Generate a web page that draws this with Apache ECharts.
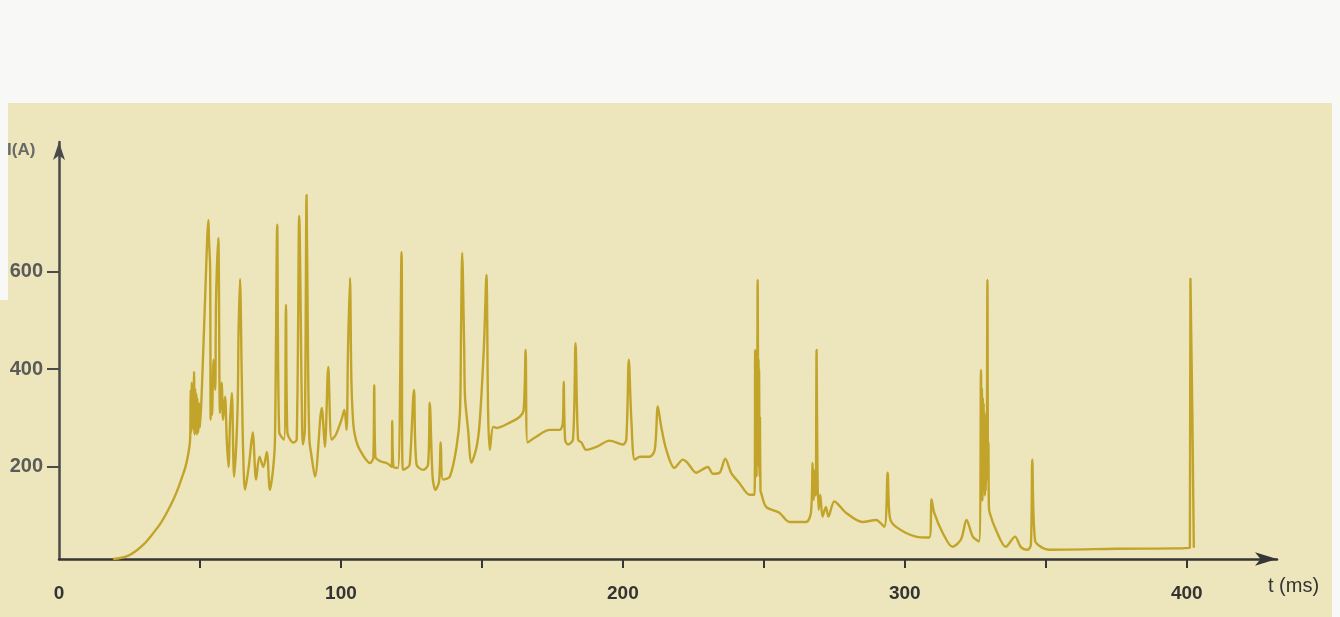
<!DOCTYPE html>
<html>
<head>
<meta charset="utf-8">
<script src="https://cdn.jsdelivr.net/npm/echarts@6/dist/echarts.min.js"></script>
<style>
html,body{margin:0;padding:0;background:#F8F8F6;}
#chart{width:1340px;height:617px;}
</style>
</head>
<body>
<div id="chart"></div>
<script>
// time in ms
const timeMs = [
  19.2,21.7,24.6,27.4,30.2,33.0,35.9,38.4,40.5,42.3,
  43.7,44.8,45.8,46.5,46.7,46.9,47.1,47.3,47.5,47.7,
  47.9,48.1,48.3,48.5,48.7,48.9,49.1,49.4,49.7,50.0,
  50.7,51.8,53.0,53.2,53.6,53.8,54.1,54.3,54.8,55.4,
  55.7,56.5,57.1,57.7,58.2,58.9,59.5,60.1,60.7,61.3,
  62.1,63.3,63.7,64.2,64.8,65.3,66.0,67.4,68.7,69.9,
  71.1,72.5,73.7,74.8,75.9,76.6,77.4,78.1,79.8,80.5,
  81.0,83.1,84.3,85.2,86.1,86.5,87.2,87.8,88.3,88.8,
  89.6,90.8,93.2,94.3,95.5,96.7,98.2,100.2,101.2,102.0,
  102.5,103.2,103.7,104.4,105.3,106.7,110.3,111.5,111.8,112.2,
  114.2,116.2,118.0,118.2,118.6,120.2,121.5,121.9,123.4,124.4,
  125.9,126.8,129.2,130.9,131.5,132.5,133.5,134.8,135.4,136.2,
  138.6,141.0,142.2,142.6,143.0,143.7,144.0,145.1,146.3,148.1,
  149.2,150.7,151.6,152.2,152.8,154.0,155.2,159.9,163.4,164.8,
  165.5,166.2,168.7,174.1,177.6,178.7,179.0,179.5,180.5,182.3,
  183.2,184.1,185.3,187.0,190.6,195.3,200.0,201.2,202.1,203.0,
  204.2,206.0,209.5,211.3,212.4,213.6,215.4,218.3,221.3,223.0,
  226.0,230.1,231.9,234.3,236.3,238.4,241.3,244.9,246.7,246.9,
  247.0,247.1,247.2,247.3,247.4,247.5,247.6,247.8,248.0,248.1,
  248.2,248.3,248.5,248.6,248.8,249.0,250.8,255.5,259.1,265.0,
  266.7,267.3,267.7,268.1,268.4,268.7,269.0,269.4,270.0,270.8,
  272.0,272.9,275.0,279.1,285.0,289.8,292.7,293.9,294.7,296.9,
  303.9,308.7,309.5,310.4,313.4,316.9,319.9,321.9,324.1,326.3,
  327.0,327.2,327.35,327.5,327.65,327.8,327.95,328.1,328.25,328.4,
  328.55,328.7,328.85,329.0,329.3,329.5,329.65,329.8,330.1,332.3,
  335.8,339.1,341.1,343.5,344.7,345.2,346.2,348.8,351.1,374.8,
  401.1,401.3,402.5
];
// current in A
const currentA = [
  10,12,17,27,41,60,82,107,131,156,
  179,198,224,255,357,270,372,280,368,275,
  394,265,360,270,350,265,340,270,330,280,
  363,542,706,665,609,296,378,306,419,357,
  542,669,310,372,296,343,255,199,296,351,
  179,310,480,585,392,234,152,204,270,173,
  220,199,230,152,193,255,696,270,255,532,
  270,249,255,714,337,245,275,757,439,255,
  220,179,320,240,404,255,265,296,316,275,
  439,587,378,286,255,234,207,218,367,220,
  210,207,199,294,199,197,640,193,197,204,
  357,204,193,204,331,179,152,169,249,173,
  179,240,310,480,638,445,343,275,208,240,
  290,445,593,310,234,281,279,290,302,316,
  439,249,259,275,275,290,374,255,245,255,
  453,255,249,234,240,253,245,255,419,296,
  214,220,220,234,323,281,234,197,214,207,
  187,199,185,187,216,187,166,142,142,439,
  200,430,250,400,180,420,240,583,300,420,
  200,400,180,300,150,146,117,105,86,86,
  105,207,131,193,140,439,200,111,142,97,
  117,97,128,105,86,90,76,187,95,76,
  56,54,132,105,64,35,50,90,56,46,
  398,150,360,130,340,150,330,160,310,140,
  300,150,280,170,583,180,250,120,105,70,
  35,56,35,29,39,214,47,33,29,31,
  33,585,33
];

const xTickValues = [50,100,150,200,250,300,350,400];
const xLabelValues = [0,100,200,300,400];
const yTickValues = [200,400,600];

const seriesData = timeMs.map((t, i) => [t, currentA[i]]);

const chart = echarts.init(document.getElementById('chart'), null, {renderer: 'canvas'});
chart.setOption({
  animation: false,
  backgroundColor: '#F8F8F6',
  graphic: [
    {type: 'rect', z: -10, silent: true, shape: {x: 8, y: 103, width: 1324, height: 514}, style: {fill: '#EDE6BD'}},
    {type: 'rect', z: -10, silent: true, shape: {x: 0, y: 300, width: 10, height: 317}, style: {fill: '#EDE6BD'}},
    {type: 'rect', z: 100, silent: true, shape: {x: 0, y: 103, width: 6, height: 197}, style: {fill: '#F8F8F6'}},
    {type: 'text', left: 7, top: 142, silent: true, style: {text: 'I(A)', font: 'bold 17px "Liberation Sans", Arial, sans-serif', fill: '#6a6a66'}},
    {type: 'text', left: 1268, top: 576, silent: true, style: {text: 't (ms)', font: '20px "Liberation Sans", Arial, sans-serif', fill: '#333'}}
  ],
  grid: {left: 59, right: 63, top: 142, bottom: 58, containLabel: false},
  xAxis: {
    type: 'value', min: 0, max: 432,
    splitLine: {show: false},
    axisLine: {onZero: false, symbol: ['none', 'arrow'], symbolSize: [10, 22], lineStyle: {color: '#363636', width: 2.5}},
    axisTick: {show: true, customValues: xTickValues, length: 9, inside: false, lineStyle: {color: '#363636', width: 2}},
    axisLabel: {customValues: xLabelValues, margin: 25, color: '#333', fontSize: 19, fontWeight: 'bold', fontFamily: '"Liberation Sans", Arial, sans-serif'}
  },
  yAxis: {
    type: 'value', min: 10, max: 866,
    splitLine: {show: false},
    axisLine: {onZero: false, symbol: ['none', 'arrow'], symbolSize: [9, 18], lineStyle: {color: '#4a4a4a', width: 2.5}},
    axisTick: {show: true, customValues: yTickValues, length: 12, lineStyle: {color: '#4a4a4a', width: 2}},
    axisLabel: {customValues: yTickValues, margin: 16, color: '#5a5a58', fontSize: 20, fontWeight: 'bold', fontFamily: '"Liberation Sans", Arial, sans-serif'}
  },
  series: [{
    type: 'line',
    data: seriesData,
    showSymbol: false,
    smooth: 0.3,
    clip: true,
    lineStyle: {color: '#C2A42A', width: 2.4, join: 'round'}
  }]
});
</script>
</body>
</html>
